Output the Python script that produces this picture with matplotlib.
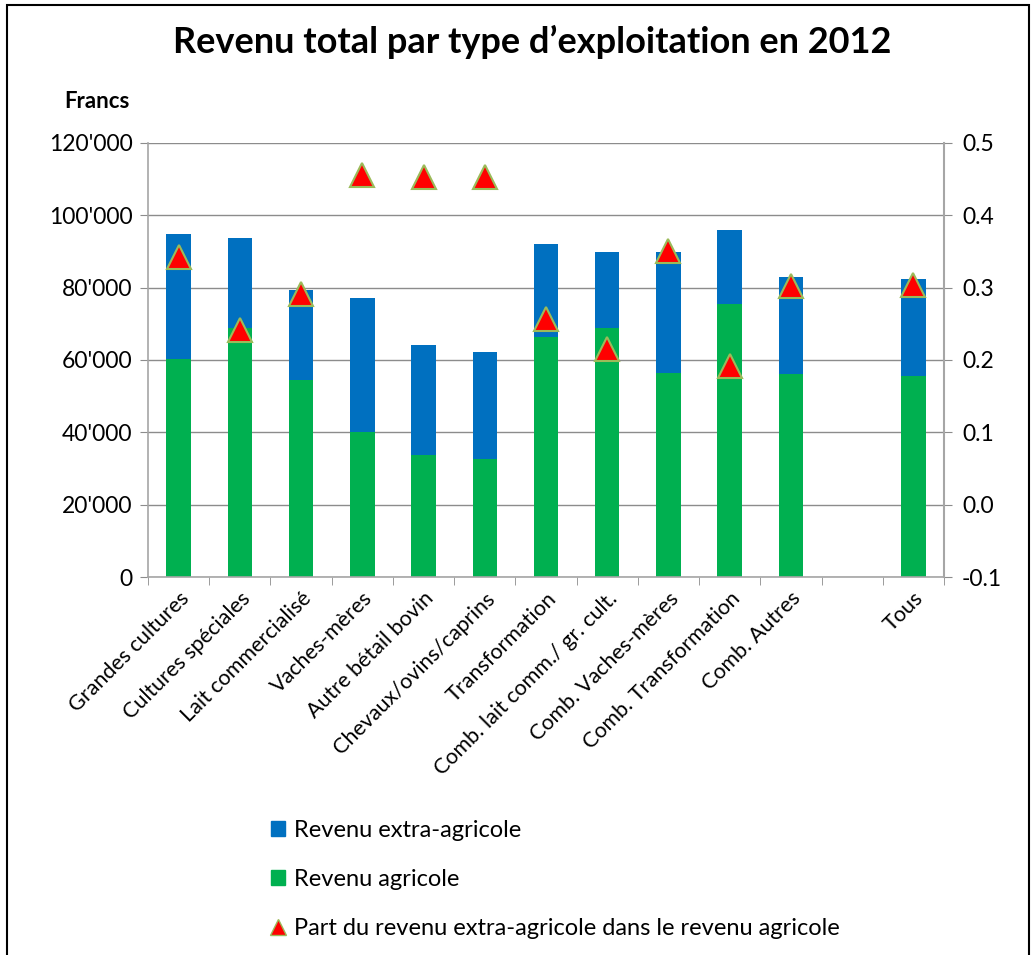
import matplotlib
matplotlib.use("Agg")
import matplotlib.pyplot as plt
import numpy as np
from matplotlib.lines import Line2D
from matplotlib.patches import Patch, Rectangle

plt.rcParams["font.family"] = ["Lato", "DejaVu Sans"]

CATEGORIES = [
    "Grandes cultures", "Cultures spéciales", "Lait commercialisé",
    "Vaches-mères", "Autre bétail bovin", "Chevaux/ovins/caprins",
    "Transformation", "Comb. lait comm./ gr. cult.", "Comb. Vaches-mères",
    "Comb. Transformation", "Comb. Autres", "", "Tous",
]
# francs; the empty slot before "Tous" has no bar
REVENU_AGRICOLE = [60300, 68800, 54400, 40100, 33800, 32600, 66400, 68800,
                   56300, 75400, 56000, np.nan, 55700]
REVENU_TOTAL = [94700, 93600, 79200, 77200, 64200, 62100, 92100, 89800,
                89800, 95900, 82900, np.nan, 82400]
PART_EXTRA = [0.342, 0.241, 0.291, 0.455, 0.452, 0.452, 0.256, 0.215,
              0.351, 0.192, 0.302, np.nan, 0.304]
LEFT_TICKS = [0, 20000, 40000, 60000, 80000, 100000, 120000]
RIGHT_TICKS = [-0.1, 0.0, 0.1, 0.2, 0.3, 0.4, 0.5]

BLUE = "#0070C0"
GREEN = "#00B050"
RED = "#FF0000"
OLIVE = "#9BBB59"
GRID = "#8c8c8c"

agri = np.array(REVENU_AGRICOLE)
extra = np.array(REVENU_TOTAL) - agri
x = np.arange(len(CATEGORIES))

fig = plt.figure(figsize=(10.33, 9.55), dpi=100)
ax = fig.add_axes([148 / 1033, 1 - 577.3 / 955, 796 / 1033, 434.6 / 955])

ax.bar(x, agri, width=0.4, color=GREEN, zorder=2)
ax.bar(x, extra, width=0.4, bottom=agri, color=BLUE, zorder=2)
ax.set_xlim(-0.5, len(CATEGORIES) - 0.5)
ax.set_ylim(0, 120000)
ax.set_yticks(LEFT_TICKS)
ax.set_yticklabels([f"{v:,}".replace(",", "'") for v in LEFT_TICKS])
ax.grid(axis="y", color=GRID, linewidth=1, zorder=0)
ax.set_axisbelow(True)

ax.set_xticks(x)
ax.set_xticklabels(CATEGORIES, rotation=45, ha="right", rotation_mode="anchor")
ax.set_xticks(np.arange(len(CATEGORIES) + 1) - 0.5, minor=True)
ax.tick_params(axis="x", which="major", length=0, pad=8, labelsize=15.5)
ax.tick_params(axis="x", which="minor", length=6, color=GRID)
ax.tick_params(axis="y", length=6, color=GRID, labelsize=16.5, pad=5)
ax.spines["top"].set_visible(False)
for side in ["left", "bottom", "right"]:
    ax.spines[side].set_color("#a6a6a6")
    ax.spines[side].set_linewidth(1.2)

ax2 = ax.twinx()
ax2.plot(x, PART_EXTRA, linestyle="none", marker="^", markersize=17,
         markerfacecolor=RED, markeredgecolor=OLIVE, markeredgewidth=1.5, zorder=3)
ax2.set_ylim(-0.1, 0.5)
ax2.set_yticks(RIGHT_TICKS)
ax2.set_yticklabels([f"{v:.1f}" for v in RIGHT_TICKS])
ax2.tick_params(axis="y", length=6, color=GRID, labelsize=16.5, pad=7)
for side in ["top", "left", "bottom"]:
    ax2.spines[side].set_visible(False)
ax2.spines["right"].set_color("#a6a6a6")
ax2.spines["right"].set_linewidth(1.5)

fig.text(532 / 1033, 1 - 42 / 955, "Revenu total par type d’exploitation en 2012",
         ha="center", va="center", fontsize=26, fontweight="bold")
fig.text(64 / 1033, 1 - 102 / 955, "Francs", ha="left", va="center",
         fontsize=16, fontweight="bold")

handles = [
    Patch(facecolor=BLUE, edgecolor=BLUE),
    Patch(facecolor=GREEN, edgecolor=GREEN),
    Line2D([], [], linestyle="none", marker="^", markersize=12,
           markerfacecolor=RED, markeredgecolor=OLIVE, markeredgewidth=1),
]
labels = ["Revenu extra-agricole", "Revenu agricole",
          "Part du revenu extra-agricole dans le revenu agricole"]
fig.legend(handles, labels, loc="upper left",
           bbox_to_anchor=(259 / 1033, 1 - 808 / 955), frameon=False,
           fontsize=17, handlelength=0.6, handleheight=0.6, handletextpad=0.4,
           labelspacing=1.18, borderpad=0)

fig.add_artist(Rectangle((7 / 1033, -0.02), 1022 / 1033, 1.02 - 5 / 955,
                         transform=fig.transFigure, fill=False,
                         edgecolor="black", linewidth=1.5))

fig.savefig("out.png", dpi=100)
